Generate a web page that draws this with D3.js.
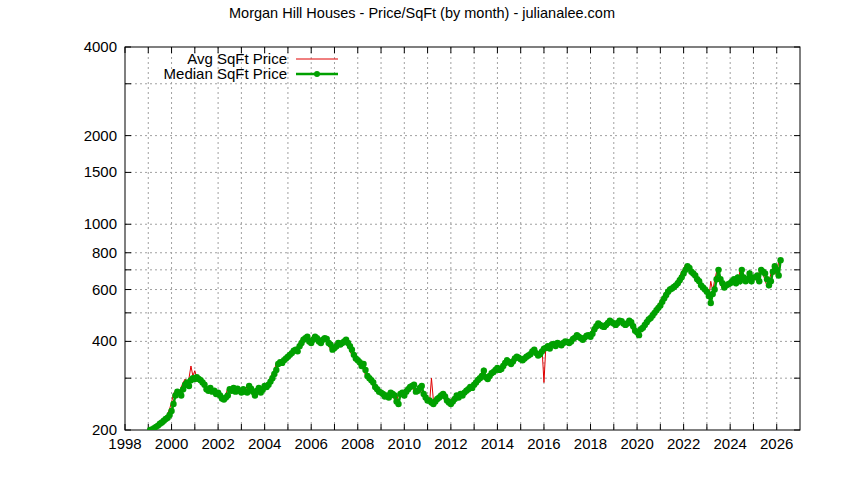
<!DOCTYPE html>
<html><head><meta charset="utf-8">
<script src="https://cdn.jsdelivr.net/npm/d3@7/dist/d3.min.js"></script>
<style>body{margin:0;background:#fff}text{font-family:"Liberation Sans",Arial,sans-serif}</style>
</head><body><svg id="c" width="844" height="480"></svg>
<script>
const startYear = 1999; // monthly series starting January 1999
const medianPrice = [
 200,201,203,205,207,210,212,215,218,220,225,232,
 245,262,270,268,262,275,285,290,282,295,300,298,
 302,298,295,290,285,275,272,278,270,272,265,268,
 262,256,254,258,262,275,272,278,270,276,272,268,
 275,270,268,282,276,270,262,272,278,268,274,282,
 280,285,292,300,310,320,335,340,338,345,350,355,
 360,365,372,375,370,385,395,405,410,415,400,395,
 405,415,410,400,395,405,410,408,395,390,375,380,
 385,395,390,395,400,405,395,385,375,360,350,345,
 340,330,335,320,305,300,295,290,280,275,270,268,
 265,260,262,258,268,265,262,250,245,265,268,262,
 270,275,280,282,285,270,272,278,282,265,258,252,
 252,248,245,250,255,258,262,265,260,252,248,245,
 250,255,262,258,265,262,268,272,275,280,278,285,
 290,296,300,305,318,302,298,305,312,315,320,325,
 320,322,330,338,345,340,335,342,350,355,352,348,
 345,350,355,358,362,370,375,365,358,362,370,378,
 380,385,378,390,392,386,395,392,388,395,400,398,
 395,400,408,412,420,415,410,405,412,418,420,415,
 425,440,450,460,455,450,448,455,462,470,465,460,
 455,462,470,468,460,455,460,470,465,450,435,430,
 420,440,445,455,465,475,480,490,500,510,520,530,
 545,560,575,590,600,605,612,620,630,645,660,680,
 700,720,710,690,680,670,650,640,620,610,600,590,
 570,540,580,600,650,700,650,630,610,620,625,630,
 640,650,630,660,640,700,660,640,650,680,640,660,
 660,670,640,700,690,680,650,620,640,690,720,700,
 670,755
];
const avgPrice = [
 198,201,205,204,208,212,210,216,219,222,227,236,
 248,266,272,270,265,280,290,298,288,300,330,305,
 318,300,296,288,286,278,270,280,268,274,266,270,
 260,258,252,260,264,278,270,280,268,278,270,270,
 277,268,270,284,274,272,260,275,280,266,276,285,
 282,288,290,302,312,318,338,342,336,348,352,358,
 362,368,370,378,372,388,398,408,412,420,402,398,
 410,420,412,402,398,408,412,410,398,392,372,382,
 388,398,392,398,402,408,398,388,372,358,352,342,
 342,328,338,318,308,298,298,288,282,272,272,266,
 268,258,265,256,270,264,265,252,248,268,270,260,
 272,278,282,285,288,268,275,280,285,262,260,250,
 255,246,300,252,258,256,265,262,262,250,250,244,
 252,258,260,260,268,264,270,270,278,282,276,288,
 292,298,302,308,315,305,300,308,310,318,322,328,
 318,325,332,340,348,338,338,345,352,358,350,350,
 348,352,352,360,365,368,378,362,360,365,372,380,
 290,388,380,392,395,384,398,394,390,398,402,396,
 398,402,410,415,422,418,412,408,415,420,418,418,
 428,442,452,462,458,452,450,458,465,472,462,458,
 458,465,472,470,462,452,462,472,468,448,432,428,
 418,442,448,458,468,478,482,492,505,512,525,535,
 548,565,578,595,605,610,618,625,635,650,665,690,
 705,730,715,695,685,665,655,645,625,605,595,585,
 575,560,640,595,645,690,645,625,605,615,620,625,
 635,645,625,655,635,690,655,635,645,670,635,650,
 655,665,635,690,685,675,645,615,635,680,710,695,
 665,750
];
const yTicks = [200,300,400,500,600,700,800,1000,1500,2000,3000,4000];
const yLabels = {200:"200",400:"400",600:"600",800:"800",1000:"1000",1500:"1500",2000:"2000",4000:"4000"};
const xTicks = d3.range(1998,2027,1);
const xLabelYears = d3.range(1998,2027,2);

const svg = d3.select("#c");
const L=125,R=800,T=47,B=430;
const x = d3.scaleLinear().domain([1998,2027]).range([L,R]);
const y = d3.scaleLog().domain([200,4000]).range([B,T]);
const g = svg.append("g");
const dash = "2,3";
g.selectAll(".gx").data(xTicks.slice(1)).enter().append("line")
 .attr("x1",d=>x(d)).attr("x2",d=>x(d)).attr("y1",T).attr("y2",B)
 .attr("stroke","#a0a0a0").attr("stroke-dasharray",dash).attr("stroke-width",1);
g.selectAll(".gy").data(yTicks.slice(1,-1)).enter().append("line")
 .attr("x1",L).attr("x2",R).attr("y1",d=>y(d)).attr("y2",d=>y(d))
 .attr("stroke","#a0a0a0").attr("stroke-dasharray",dash).attr("stroke-width",1);
g.append("rect").attr("x",L).attr("y",T).attr("width",R-L).attr("height",B-T).attr("fill","none").attr("stroke","#000");
const tk = g.append("g").attr("stroke","#000");
xTicks.forEach(d=>{tk.append("line").attr("x1",x(d)).attr("x2",x(d)).attr("y1",B).attr("y2",B-6);
 tk.append("line").attr("x1",x(d)).attr("x2",x(d)).attr("y1",T).attr("y2",T+6);});
yTicks.forEach(d=>{tk.append("line").attr("x1",L).attr("x2",L+6).attr("y1",y(d)).attr("y2",y(d));
 tk.append("line").attr("x1",R).attr("x2",R-6).attr("y1",y(d)).attr("y2",y(d));});
g.selectAll(".xl").data(xLabelYears).enter().append("text").attr("x",d=>x(d)).attr("y",B+19)
 .attr("text-anchor","middle").attr("font-size",15).text(d=>d);
g.selectAll(".yl").data(yTicks.filter(d=>yLabels[d])).enter().append("text").attr("x",L-8).attr("y",d=>y(d)+5)
 .attr("text-anchor","end").attr("font-size",15).text(d=>yLabels[d]);
svg.append("text").attr("x",422).attr("y",18).attr("text-anchor","middle").attr("font-size",14.5)
 .text("Morgan Hill Houses - Price/SqFt (by month) - julianalee.com");
const avgPts = avgPrice.map((v,i)=>[startYear+i/12,v]);
const medPts = medianPrice.map((v,i)=>[startYear+1/12+i/12,v]);
svg.append("clipPath").attr("id","cp").append("rect").attr("x",L).attr("y",T).attr("width",R-L).attr("height",B-T);
const line = d3.line().x(d=>x(d[0])).y(d=>y(d[1]));
const dg = svg.append("g").attr("clip-path","url(#cp)");
dg.append("path").datum(avgPts).attr("d",line).attr("fill","none").attr("stroke","#e00000").attr("stroke-width",1);
dg.append("path").datum(medPts).attr("d",line).attr("fill","none").attr("stroke","#00a000").attr("stroke-width",2.5);
dg.selectAll("circle").data(medPts).enter().append("circle").attr("cx",d=>x(d[0])).attr("cy",d=>y(d[1])).attr("r",3.2).attr("fill","#00a000");
svg.append("text").attr("x",287).attr("y",64).attr("text-anchor","end").attr("font-size",15).text("Avg SqFt Price");
svg.append("text").attr("x",287).attr("y",79).attr("text-anchor","end").attr("font-size",15).text("Median SqFt Price");
svg.append("line").attr("x1",296).attr("x2",338).attr("y1",59).attr("y2",59).attr("stroke","#e00000");
svg.append("line").attr("x1",296).attr("x2",338).attr("y1",74).attr("y2",74).attr("stroke","#00a000").attr("stroke-width",2.5);
svg.append("circle").attr("cx",317).attr("cy",74).attr("r",3).attr("fill","#00a000");
</script></body></html>
